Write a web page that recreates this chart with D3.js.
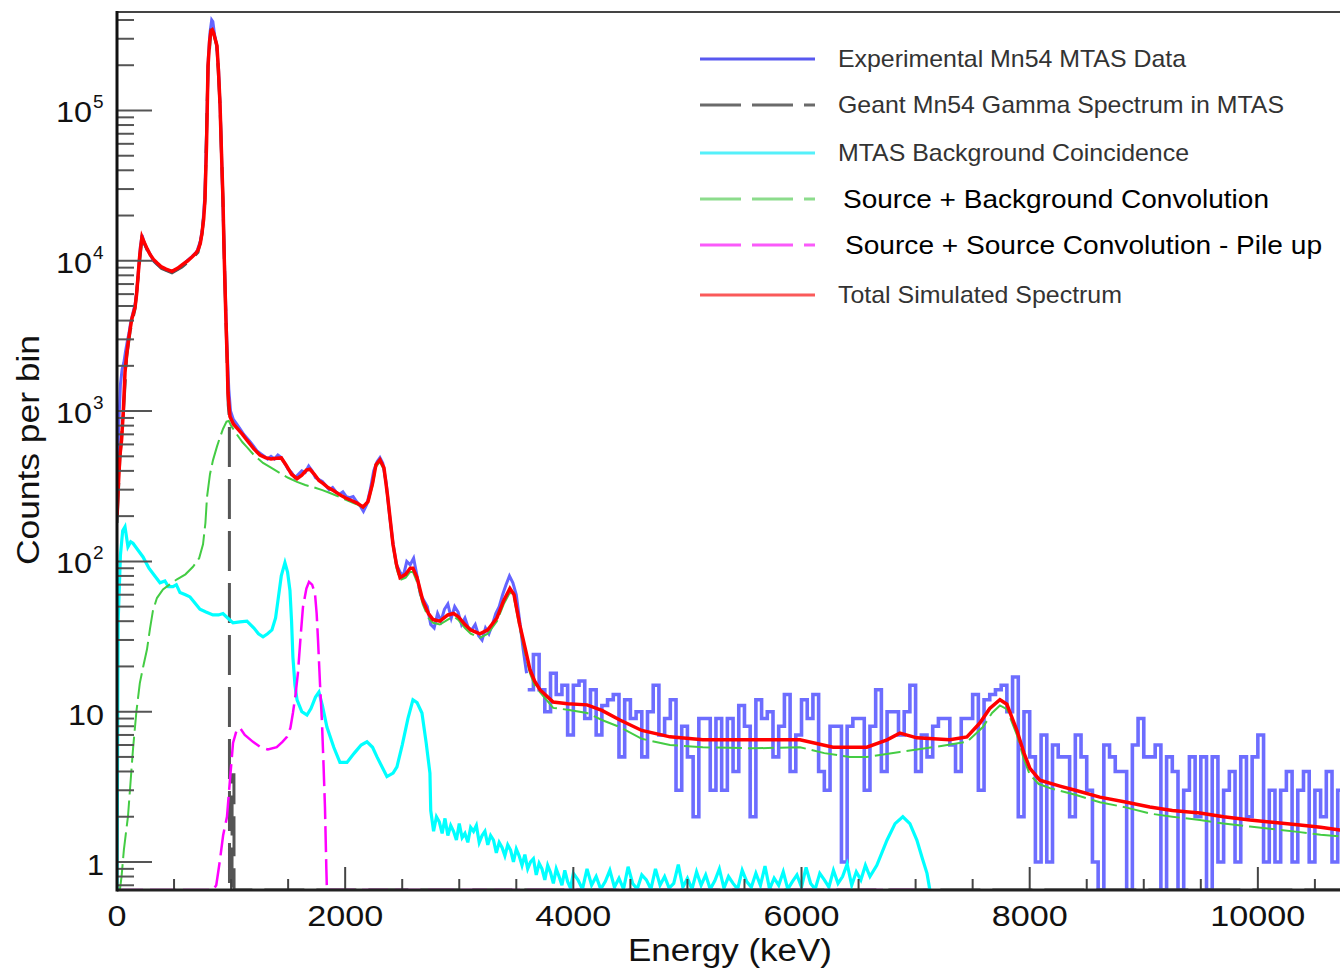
<!DOCTYPE html>
<html>
<head>
<meta charset="utf-8">
<script src="https://cdn.jsdelivr.net/npm/d3@7"></script>
<style>
  body { margin: 0; background: #fff; }
  text { font-family: "Liberation Sans", Arial, Helvetica, sans-serif; }
</style>
</head>
<body>
<script>
// ---- data: [energy keV, counts per bin] ----

let expLow = [
  [0, 300], [15, 800], [30, 1500], [45, 1900], [60, 2100], [75, 2500], [90, 2900], [105, 3300],
  [120, 3900], [140, 4500], [160, 5200], [175, 6500], [190, 9000], [205, 12500], [220, 14800],
  [240, 13000], [265, 11800], [290, 11100], [320, 10000], [350, 9500], [390, 9000], [430, 8700],
  [480, 8400], [530, 8800], [570, 9300], [620, 10100], [660, 10700], [700, 11500], [730, 13500],
  [750, 16500], [770, 27000], [785, 70000], [800, 220000], [815, 330000], [830, 400000],
  [840, 390000], [855, 320000], [870, 280000], [890, 190000], [905, 100000], [920, 40000],
  [935, 15000], [950, 6000], [965, 2600], [980, 1400], [995, 1000], [1020, 880], [1050, 820],
  [1080, 760], [1110, 700], [1140, 660], [1170, 620], [1200, 580], [1230, 540], [1260, 520],
  [1290, 500], [1320, 480], [1350, 500], [1380, 480], [1410, 510], [1440, 490], [1470, 450],
  [1500, 410], [1530, 390], [1560, 360], [1590, 380], [1620, 400], [1650, 390], [1680, 430],
  [1710, 400], [1740, 360], [1770, 350], [1800, 340], [1830, 320], [1860, 300], [1890, 310],
  [1920, 290], [1950, 280], [1980, 290], [2010, 270], [2040, 265], [2070, 270], [2100, 250],
  [2130, 235], [2160, 215], [2190, 240], [2220, 300], [2250, 400], [2280, 460], [2305, 490],
  [2330, 450], [2360, 330], [2390, 200], [2420, 130], [2450, 95], [2480, 85], [2510, 80],
  [2540, 100], [2570, 95], [2600, 105], [2630, 80], [2660, 60], [2690, 55], [2720, 50],
  [2750, 38], [2780, 36], [2810, 45], [2840, 40], [2870, 48], [2900, 52], [2930, 42],
  [2960, 50], [2990, 46], [3020, 38], [3050, 42], [3080, 36], [3110, 35], [3140, 38],
  [3170, 32], [3200, 30], [3230, 36], [3260, 33], [3290, 38], [3320, 45], [3350, 50],
  [3380, 60], [3410, 70], [3440, 80], [3470, 72], [3500, 60], [3530, 40], [3560, 26], [3590, 18]
];

// 50 keV bins from 3600 keV on
let expHighStart = 3600;
let expHighBin = 50;
let expHigh = [
  14, 24, 14, 10, 18, 13, 15, 7, 15, 16, 9, 14, 7, 11, 12, 13, 5, 12, 9, 10,
  5, 10, 15, 7, 9, 12, 3, 8, 5, 2, 9, 9, 3, 9, 3, 9, 4, 11, 8, 2,
  12, 9, 10, 5, 8, 13, 4, 7, 12, 9, 13, 4, 3, 8, 8, 1, 8, 9, 9, 3,
  8, 14, 4, 10, 10, 7, 10, 15, 4, 7, 5, 8, 9, 9, 6, 4, 9, 9, 13, 3,
  12, 13, 14, 15, 10, 17, 2, 10,
  5, 1, 7, 1, 6, 5, 5, 2, 7, 5, 3, 1, 0, 6, 5, 4, 4, 0, 6, 9,
  5, 5, 6, 0, 5, 4, 0, 3, 5, 2, 5, 0, 5, 1, 3, 4, 1, 5, 2, 5,
  7, 1, 3, 1, 3, 4, 1, 3, 4, 1, 3, 2, 4, 1, 3, 2
];

let geantSim = [
  [0, 180], [25, 480], [55, 950], [85, 2300], [115, 3400], [158, 4800], [184, 7600], [219, 14200],
  [265, 11800], [320, 10000], [390, 8900], [482, 8300], [570, 9100], [657, 10300], [710, 11400],
  [745, 15000], [771, 25000], [798, 196000], [824, 338000], [846, 328000], [876, 268000],
  [903, 108000], [929, 25000], [946, 7000], [964, 2300], [975, 1100], [985, 900], [986, 0],
  [1008, 0], [1009, 3.8], [1025, 3.8], [1026, 0], [10800, 0]
];

let background = [
  [0, 0.5], [10, 40], [30, 110], [50, 160], [70, 170], [96, 125], [120, 135], [140, 132],
  [180, 120], [228, 107], [280, 90], [320, 82], [377, 72], [420, 74], [450, 68], [491, 68],
  [520, 70], [552, 62], [600, 60], [640, 58], [690, 52], [727, 48], [780, 46], [841, 44],
  [890, 44], [929, 45], [970, 42], [1017, 39], [1078, 39.6], [1139, 40], [1200, 36], [1240, 33],
  [1280, 31.5], [1320, 33], [1358, 35], [1390, 42], [1411, 55], [1440, 80], [1472, 98],
  [1495, 85], [1516, 64], [1530, 40], [1542, 23], [1560, 15], [1578, 12], [1620, 10],
  [1665, 9.5], [1700, 10.5], [1740, 12.5], [1770, 13.5], [1800, 11], [1840, 7.9], [1900, 5.8],
  [1954, 4.6], [2016, 4.6], [2080, 5.3], [2140, 6.0], [2191, 6.3], [2240, 5.8], [2279, 5.0],
  [2366, 3.7], [2420, 3.9], [2454, 4.3], [2500, 6.0], [2550, 9], [2594, 12], [2630, 11.5],
  [2673, 9.8], [2710, 6.2], [2743, 3.9],
  [2750, 2.2], [2775, 1.6], [2800, 2.0], [2825, 1.85], [2850, 1.55], [2875, 1.95], [2900, 1.5],
  [2925, 1.75], [2950, 1.6], [2975, 1.4], [3000, 1.8], [3025, 1.45], [3050, 1.55], [3075, 1.35],
  [3100, 1.7], [3125, 1.6], [3150, 1.75], [3175, 1.35], [3200, 1.5], [3225, 1.6], [3250, 1.3],
  [3275, 1.5], [3300, 1.4], [3325, 1.15], [3350, 1.35], [3375, 1.25], [3400, 1.1], [3425, 1.3],
  [3450, 1.2], [3475, 1.0], [3500, 1.22], [3525, 1.1], [3550, 0.95], [3575, 1.12], [3600, 0.9],
  [3625, 1.0], [3650, 1.05], [3675, 0.82], [3700, 0.98], [3725, 0.9], [3750, 0.76], [3775, 0.95],
  [3800, 0.85], [3825, 0.72], [3850, 0.9], [3875, 0.8], [3900, 0.7], [3925, 0.88], [3950, 0.74],
  [3975, 0.67], [4000, 0.84], [4040, 0.76], [4080, 0.66], [4120, 0.9], [4160, 0.7], [4200, 0.8],
  [4240, 0.66], [4280, 0.74], [4320, 0.88], [4360, 0.68], [4400, 0.78], [4440, 0.66], [4480, 0.93],
  [4520, 0.72], [4560, 0.66], [4600, 0.82], [4640, 0.76], [4680, 0.66], [4720, 0.9], [4760, 0.7],
  [4800, 0.8], [4840, 0.67], [4880, 0.72], [4920, 0.96], [4960, 0.68], [5000, 0.78], [5040, 0.66],
  [5080, 0.86], [5120, 0.7], [5160, 0.82], [5200, 0.66], [5240, 0.75], [5280, 0.9], [5320, 0.67],
  [5360, 0.8], [5400, 0.72], [5440, 0.66], [5480, 0.88], [5520, 0.74], [5560, 0.68], [5600, 0.84],
  [5640, 0.7], [5680, 0.94], [5720, 0.66], [5760, 0.78], [5800, 0.7], [5840, 0.86], [5880, 0.66],
  [5920, 0.74], [5960, 0.82], [6000, 0.68], [6040, 0.92], [6080, 0.72], [6120, 0.66], [6160, 0.84],
  [6200, 0.76], [6240, 0.68], [6280, 0.88], [6320, 0.72], [6360, 0.8], [6400, 0.97], [6440, 0.7],
  [6480, 0.86], [6520, 0.76], [6560, 0.95], [6600, 0.8], [6660, 0.95], [6750, 1.4], [6820, 1.8],
  [6888, 2.0], [6950, 1.8], [7011, 1.4], [7060, 1.05], [7100, 0.84], [7125, 0.5]
];

let bgConvolution = [
  [25, 0.5], [40, 0.8], [60, 1.2], [80, 1.6], [96, 2.0], [120, 3.5], [140, 5.6], [170, 10],
  [200, 15.5], [230, 20], [263, 26], [290, 36], [315, 47], [350, 57], [403, 65], [460, 70],
  [526, 76], [600, 82], [666, 92], [720, 105], [754, 130], [775, 180], [789, 268], [815, 380],
  [841, 470], [876, 580], [900, 660], [929, 760], [960, 850], [980, 860], [1000, 800],
  [1050, 700], [1100, 620], [1139, 575], [1200, 510], [1280, 452], [1350, 420], [1429, 387],
  [1500, 360], [1578, 338], [1650, 322], [1718, 312], [1800, 298], [1867, 285], [1950, 268],
  [2016, 255], [2100, 240], [2156, 228], [2200, 245], [2240, 320], [2270, 425], [2305, 460],
  [2340, 405], [2370, 270], [2419, 125], [2450, 90], [2481, 75], [2530, 78], [2570, 85],
  [2594, 85], [2630, 73], [2680, 52], [2730, 42], [2770, 39], [2830, 38], [2900, 41],
  [2950, 43], [2990, 41], [3050, 36], [3100, 33], [3181, 31], [3250, 33], [3330, 40],
  [3390, 52], [3444, 62], [3480, 57], [3530, 36], [3580, 24], [3620, 18], [3660, 15],
  [3707, 13.5], [3823, 10.6], [3950, 10.3], [4120, 9.8], [4250, 8.8], [4408, 7.9], [4600, 6.6],
  [4847, 6.0], [5135, 5.8], [5574, 5.7], [5986, 5.8], [6200, 5.3], [6424, 5.0], [6573, 5.0],
  [6862, 5.4], [7152, 5.8], [7450, 6.3], [7590, 7.9], [7670, 9.8], [7739, 11.0], [7800, 10.4],
  [7888, 7.0], [7950, 4.8], [8002, 3.8], [8080, 3.3], [8177, 3.1], [8400, 2.8], [8615, 2.5],
  [8850, 2.3], [9053, 2.1], [9250, 2.0], [9492, 1.9], [9700, 1.8], [9930, 1.72], [10150, 1.65],
  [10368, 1.58], [10550, 1.52], [10719, 1.48], [10800, 1.46]
];

let pileUp = [
  [0, 0], [841, 0], [870, 0.7], [900, 1.0], [930, 1.5], [964, 2.0], [990, 3.5], [1017, 6.2],
  [1050, 7.6], [1078, 7.8], [1120, 7.0], [1192, 6.3], [1260, 5.8], [1323, 5.6], [1400, 5.8],
  [1450, 6.3], [1490, 6.8], [1520, 7.8], [1542, 9.8], [1565, 13], [1586, 18.1], [1610, 32],
  [1630, 49.6], [1660, 66], [1683, 73], [1710, 70], [1735, 61.5], [1750, 45], [1762, 30],
  [1780, 15], [1797, 8.4], [1810, 4.5], [1823, 2.3], [1835, 0.9], [1840, 0], [7100, 0]
];

let totalSim = [
  [0, 200], [10, 300], [25, 500], [40, 640], [55, 980], [70, 1800], [85, 2400], [100, 2950],
  [115, 3500], [130, 4100], [158, 4900], [172, 6000], [184, 7800], [200, 11000], [219, 14400],
  [240, 13200], [265, 12000], [290, 11000], [320, 10200], [350, 9700], [390, 9100], [430, 8800],
  [482, 8500], [530, 8900], [570, 9400], [620, 10000], [657, 10600], [690, 11200], [710, 11800],
  [730, 13000], [745, 15300], [760, 19000], [771, 25400], [785, 60000], [798, 198000],
  [812, 290000], [824, 340000], [835, 345000], [846, 330000], [860, 300000], [876, 270000],
  [890, 180000], [903, 110000], [915, 55000], [929, 25400], [938, 12000], [946, 7100],
  [955, 4000], [964, 2450], [973, 1320], [990, 920], [1020, 820], [1052, 770], [1100, 700],
  [1139, 640], [1200, 560], [1253, 510], [1300, 490], [1350, 480], [1400, 485], [1440, 488],
  [1480, 440], [1530, 380], [1578, 355], [1620, 375], [1660, 405], [1691, 410], [1730, 380],
  [1770, 345], [1805, 330], [1850, 310], [1900, 295], [1954, 277], [2000, 265], [2050, 255],
  [2100, 245], [2156, 230], [2200, 250], [2240, 330], [2270, 440], [2305, 475], [2340, 420],
  [2370, 280], [2419, 130], [2450, 95], [2481, 78], [2530, 82], [2570, 90], [2594, 90],
  [2630, 78], [2680, 55], [2730, 45], [2770, 41], [2830, 40], [2900, 44], [2950, 45],
  [2990, 43], [3050, 38], [3100, 35], [3181, 33], [3250, 35], [3330, 42], [3390, 55],
  [3444, 66], [3480, 60], [3530, 38], [3580, 26], [3620, 19], [3660, 16], [3707, 14],
  [3823, 11.6], [3950, 11.3], [4120, 11.1], [4250, 10.2], [4408, 8.8], [4600, 7.5], [4847, 6.8],
  [5135, 6.5], [5574, 6.5], [5986, 6.5], [6276, 5.8], [6573, 5.8], [6750, 6.5], [6862, 7.2],
  [7011, 6.7], [7300, 6.5], [7450, 6.8], [7563, 8.4], [7650, 10.5], [7739, 12], [7800, 11.2],
  [7888, 7.5], [7950, 5.3], [8002, 4.2], [8089, 3.5], [8265, 3.2], [8400, 3.0], [8615, 2.7],
  [8850, 2.5], [9053, 2.32], [9250, 2.2], [9492, 2.12], [9700, 2.0], [9930, 1.9], [10150, 1.83],
  [10368, 1.76], [10550, 1.7], [10719, 1.63], [10800, 1.6]
];

let legendLabels = [
  'Experimental Mn54 MTAS Data',
  'Geant Mn54 Gamma Spectrum in MTAS',
  'MTAS Background Coincidence',
  'Source + Background Convolution',
  'Source + Source Convolution - Pile up',
  'Total Simulated Spectrum'
];

let xTickLabels = ['0', '2000', '4000', '6000', '8000', '10000'];

// ---- layout ----
let svgWidth = 1340;
let svgHeight = 969;
let plot = { left: 117, right: 1340, top: 12, bottom: 890 };
let yMin = 0.651;
let yMax = 452000;

let svg = d3.select('body')
  .append('svg')
  .attr('width', svgWidth)
  .attr('height', svgHeight);

let x = d3.scaleLinear()
  .domain([0, 10720])
  .range([plot.left, plot.right]);

let y = d3.scaleLog()
  .domain([yMin, yMax])
  .range([plot.bottom, plot.top]);

svg.append('clipPath')
  .attr('id', 'plotClip')
  .append('rect')
  .attr('x', plot.left)
  .attr('y', plot.top - 2)
  .attr('width', plot.right - plot.left)
  .attr('height', plot.bottom - plot.top + 3);

let line = d3.line()
  .x(d => x(d[0]))
  .y(d => y(Math.max(d[1], yMin)));

let stepLine = d3.line()
  .x(d => x(d[0]))
  .y(d => y(Math.max(d[1], yMin)))
  .curve(d3.curveStepAfter);

let highPairs = expHigh.map((v, i) => [expHighStart + i * expHighBin, v]);
highPairs.push([expHighStart + expHigh.length * expHighBin, expHigh[expHigh.length - 1]]);

let plotArea = svg.append('g').attr('clip-path', 'url(#plotClip)');

// experimental data
plotArea.append('path')
  .attr('d', line(expLow))
  .attr('fill', 'none')
  .attr('stroke', '#3030ff')
  .attr('stroke-opacity', 0.75)
  .attr('stroke-width', 3);

plotArea.append('path')
  .attr('d', stepLine(highPairs))
  .attr('fill', 'none')
  .attr('stroke', '#3535ff')
  .attr('stroke-opacity', 0.72)
  .attr('stroke-width', 3.6);

// geant
plotArea.append('path')
  .attr('d', line(geantSim))
  .attr('fill', 'none')
  .attr('stroke', '#555')
  .attr('stroke-width', 3)
  .attr('stroke-dasharray', '40,12');

// background
plotArea.append('path')
  .attr('d', line(background))
  .attr('fill', 'none')
  .attr('stroke', '#00ffff')
  .attr('stroke-width', 3.2);

// pile up
plotArea.append('path')
  .attr('d', line(pileUp))
  .attr('fill', 'none')
  .attr('stroke', '#ff00ff')
  .attr('stroke-width', 2.5)
  .attr('stroke-dasharray', '26,7');

// source + background
plotArea.append('path')
  .attr('d', line(bgConvolution))
  .attr('fill', 'none')
  .attr('stroke', '#44cc44')
  .attr('stroke-width', 2)
  .attr('stroke-dasharray', '26,6');

// total
plotArea.append('path')
  .attr('d', line(totalSim))
  .attr('fill', 'none')
  .attr('stroke', '#ff0000')
  .attr('stroke-width', 3.5);

// ---- axes ----
let xTicks = d3.range(0, 10721, 500);
svg.append('g').selectAll('line')
  .data(xTicks)
  .enter()
  .append('line')
  .attr('x1', d => x(d))
  .attr('x2', d => x(d))
  .attr('y1', plot.bottom)
  .attr('y2', d => plot.bottom - (d % 2000 === 0 ? 23 : 11))
  .attr('stroke', '#444')
  .attr('stroke-width', 2);

let yTicks = y.ticks();
svg.append('g').selectAll('line')
  .data(yTicks)
  .enter()
  .append('line')
  .attr('x1', plot.left)
  .attr('x2', d => plot.left + (Math.abs(Math.log10(d) - Math.round(Math.log10(d))) < 1e-6 ? 35 : 17))
  .attr('y1', d => y(d))
  .attr('y2', d => y(d))
  .attr('stroke', '#555')
  .attr('stroke-width', 2);

// frame
svg.append('line')
  .attr('x1', plot.left).attr('x2', plot.right)
  .attr('y1', plot.top).attr('y2', plot.top)
  .attr('stroke', '#444').attr('stroke-width', 2);
svg.append('line')
  .attr('x1', plot.left).attr('x2', plot.right)
  .attr('y1', plot.bottom).attr('y2', plot.bottom)
  .attr('stroke', '#222').attr('stroke-width', 3);
svg.append('line')
  .attr('x1', plot.left).attr('x2', plot.left)
  .attr('y1', plot.top - 1).attr('y2', plot.bottom + 1.5)
  .attr('stroke', '#111').attr('stroke-width', 3);

// x tick labels
svg.append('g').selectAll('text')
  .data(xTickLabels)
  .enter()
  .append('text')
  .attr('x', d => x(+d))
  .attr('y', 926)
  .attr('text-anchor', 'middle')
  .attr('font-size', '29px')
  .attr('fill', '#111')
  .attr('textLength', d => d.length * 19)
  .attr('lengthAdjust', 'spacingAndGlyphs')
  .text(d => d);

// y tick labels
let yDecades = [1, 10, 100, 1000, 10000, 100000];
yDecades.forEach(function (v) {
  let ty = y(v);
  let p = Math.round(Math.log10(v));
  if (p <= 1) {
    svg.append('text')
      .attr('x', 104)
      .attr('y', ty + 13)
      .attr('text-anchor', 'end')
      .attr('font-size', '29px')
      .attr('fill', '#111')
      .attr('textLength', p === 0 ? 17 : 36)
      .attr('lengthAdjust', 'spacingAndGlyphs')
      .text(p === 0 ? '1' : '10');
  } else {
    svg.append('text')
      .attr('x', 92)
      .attr('y', ty + 12)
      .attr('text-anchor', 'end')
      .attr('font-size', '29px')
      .attr('fill', '#111')
      .attr('textLength', 36)
      .attr('lengthAdjust', 'spacingAndGlyphs')
      .text('10');
    svg.append('text')
      .attr('x', 93)
      .attr('y', ty - 2)
      .attr('font-size', '19px')
      .attr('fill', '#111')
      .text(p);
  }
});

// axis titles
svg.append('text')
  .attr('x', 730)
  .attr('y', 961)
  .attr('text-anchor', 'middle')
  .attr('font-size', '31px')
  .attr('fill', '#111')
  .attr('textLength', 204)
  .attr('lengthAdjust', 'spacingAndGlyphs')
  .text('Energy (keV)');

svg.append('text')
  .attr('transform', 'translate(39, 450) rotate(-90)')
  .attr('text-anchor', 'middle')
  .attr('font-size', '31px')
  .attr('fill', '#111')
  .attr('textLength', 230)
  .attr('lengthAdjust', 'spacingAndGlyphs')
  .text('Counts per bin');

// ---- legend ----
let legendColors = ['#5858f0', '#6a6a6a', '#55f0fa', '#8cdc8c', '#fa5afa', '#fa5a5a'];
let legendDash = [null, '41,11', null, '41,11', '41,11', null];
let legendY = [59, 105, 153, 199, 245, 295];
let legendTextX = [838, 838, 838, 843, 845, 838];
let legendTextW = [348, 446, 351, 426, 477, 284];
let legendBig = [false, false, false, true, true, false];

legendLabels.forEach(function (label, i) {
  svg.append('line')
    .attr('x1', 700)
    .attr('x2', 815)
    .attr('y1', legendY[i])
    .attr('y2', legendY[i])
    .attr('stroke', legendColors[i])
    .attr('stroke-width', 3)
    .attr('stroke-dasharray', legendDash[i]);

  svg.append('text')
    .attr('x', legendTextX[i])
    .attr('y', legendY[i] + (legendBig[i] ? 9 : 8))
    .attr('font-size', legendBig[i] ? '26px' : '24px')
    .attr('fill', legendBig[i] ? '#000' : '#333')
    .attr('textLength', legendTextW[i])
    .attr('lengthAdjust', 'spacingAndGlyphs')
    .text(label);
});
</script>
</body>
</html>
